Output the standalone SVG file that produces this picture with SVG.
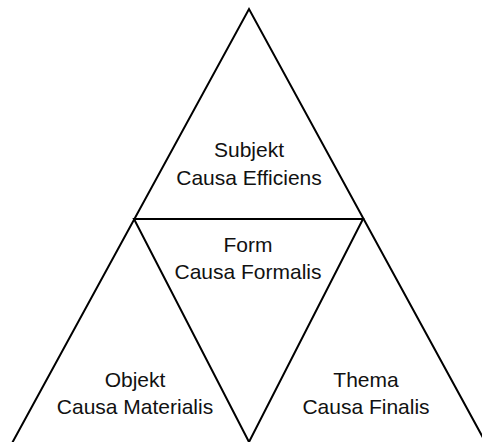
<svg xmlns="http://www.w3.org/2000/svg" width="482" height="442" viewBox="0 0 482 442">
  <style>
    .edge { stroke: #000; stroke-width: 2; fill: none; stroke-linejoin: miter; }
    .label { font-family: "Liberation Sans", Arial, Helvetica, sans-serif; font-size: 21px; fill: #111; text-anchor: middle; }
  </style>
  <rect width="482" height="442" fill="#fff"/>
  <g id="connectors">
    <!-- outer triangle sides, running past the bottom edge -->
    <polyline class="edge" points="5,456 249,9 493,456"/>
    <!-- inner inverted triangle -->
    <polygon class="edge" points="134,219 363,219 249,442"/>
  </g>
  <g id="subjekt">
    <text class="label" x="249" y="157">Subjekt</text>
    <text class="label" x="249" y="185">Causa Efficiens</text>
  </g>
  <g id="form">
    <text class="label" x="248" y="252">Form</text>
    <text class="label" x="248" y="279">Causa Formalis</text>
  </g>
  <g id="objekt">
    <text class="label" x="135" y="387">Objekt</text>
    <text class="label" x="135" y="414">Causa Materialis</text>
  </g>
  <g id="thema">
    <text class="label" x="366" y="387">Thema</text>
    <text class="label" x="366" y="414">Causa Finalis</text>
  </g>
</svg>
